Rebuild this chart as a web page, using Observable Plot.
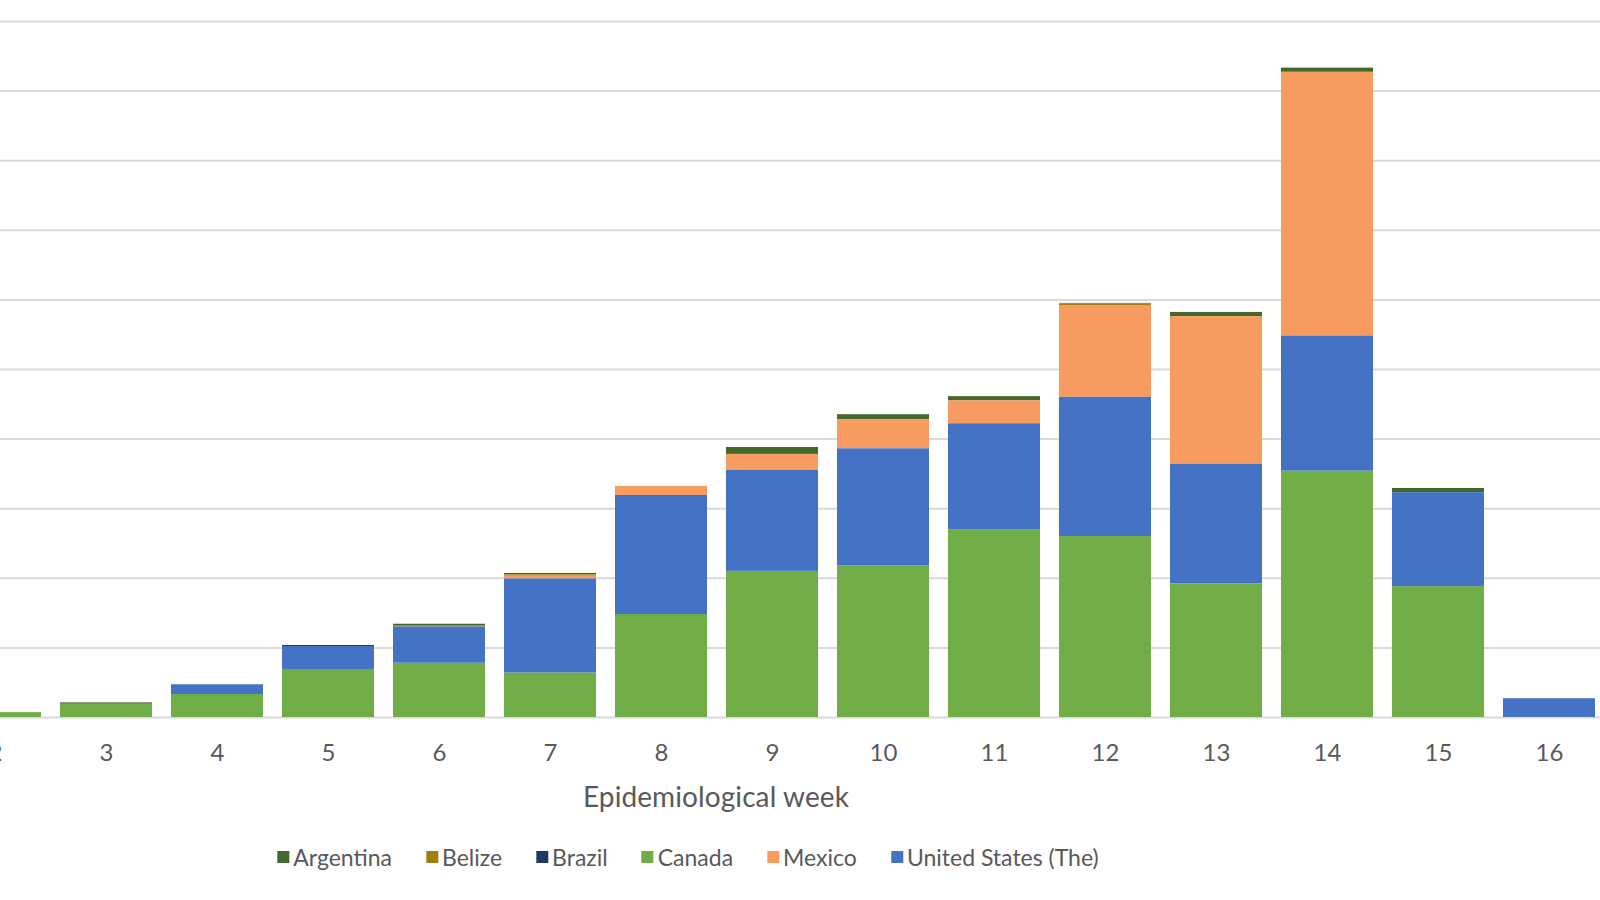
<!DOCTYPE html>
<html>
<head>
<meta charset="utf-8">
<script src="https://cdn.jsdelivr.net/npm/d3@7"></script>
<script src="https://cdn.jsdelivr.net/npm/@observablehq/plot@0.6"></script>
<style>
  html, body { margin: 0; padding: 0; background: #fff; }
  #wrap { position: relative; width: 1600px; height: 900px; overflow: hidden; font-family: Lato, "Open Sans", sans-serif; }
  #chart { position: absolute; left: 0; top: 0; }
  #title { position: absolute; top: 780px; left: 716px; transform: translateX(-50%); font-size: 28px; line-height: 1.2; color: #595959; white-space: nowrap; letter-spacing: 0.1px; }
  #legend { position: absolute; top: 843px; left: 688px; transform: translateX(-50%); display: flex; align-items: center; white-space: nowrap; font-size: 23px; color: #595959; }
  #legend .item { display: flex; align-items: center; margin-right: 34px; }
  #legend .item:last-child { margin-right: 0; }
  #legend .sw { width: 12px; height: 12px; margin-right: 4px; display: inline-block; }
</style>
</head>
<body>
<div id="wrap">
  <div id="chart"></div>
  <div id="title">Epidemiological week</div>
  <div id="legend"></div>
</div>
<script>
// Epidemiological weeks shown
const weeks = [2, 3, 4, 5, 6, 7, 8, 9, 10, 11, 12, 13, 14, 15, 16];

// Series values per week
const argentina = [0, 1, 0, 0, 1, 1, 0, 5, 3.5, 3, 0.5, 3, 3, 3, 0];
const belize    = [0, 0, 0, 0, 1, 1, 0, 0, 0, 0, 1, 0, 0, 0, 0];
const brazil    = [0, 0, 0, 0.7, 0, 0, 0, 0, 0, 0, 0, 0, 0, 0, 0];
const canada    = [3.5, 9.5, 16.5, 34.5, 39, 32, 74, 105, 109, 135, 130, 96, 177, 94, 0];
const mexico    = [0, 0, 0, 0, 0, 2, 6.5, 11.5, 21, 16.5, 66, 106, 189.5, 0, 0];
const usa       = [0, 0, 7, 16.5, 26, 67.5, 85.5, 72.5, 84, 76, 100, 86, 97, 67.5, 13.5];

// Legend order and colours
const countries = ["Argentina", "Belize", "Brazil", "Canada", "Mexico", "United States (The)"];
const colors = ["#43682b", "#a07e0c", "#203864", "#70ad47", "#f89b60", "#4472c4"];
// Stacking order bottom → top
const stackOrder = ["Canada", "United States (The)", "Mexico", "Brazil", "Belize", "Argentina"];

// Gridline values
const yTicks = [0, 50, 100, 150, 200, 250, 300, 350, 400, 450, 500];

const seriesByCountry = {
  "Argentina": argentina,
  "Belize": belize,
  "Brazil": brazil,
  "Canada": canada,
  "Mexico": mexico,
  "United States (The)": usa
};

const data = [];
for (const c of countries) {
  weeks.forEach((w, i) => data.push({week: w, country: c, value: seriesByCountry[c][i]}));
}

const W = 1600, H = 780;
const step = 111.1;
const firstCenter = -6;

const chart = Plot.plot({
  width: W,
  height: H,
  marginLeft: 0,
  marginRight: 0,
  marginTop: 21,
  marginBottom: 63,
  style: {fontFamily: "Lato, 'Open Sans', sans-serif", background: "#fff", overflow: "hidden"},
  x: {
    type: "band",
    domain: weeks,
    range: [firstCenter - step / 2, firstCenter - step / 2 + step * weeks.length],
    paddingInner: 0.17,
    paddingOuter: 0.085,
    label: null
  },
  y: {domain: [0, 500], axis: null},
  color: {domain: countries, range: colors},
  marks: [
    Plot.ruleY(yTicks, {stroke: "#d9d9d9", strokeWidth: 2}),
    Plot.barY(data, Plot.stackY({x: "week", y: "value", fill: "country", order: stackOrder})),
    Plot.axisX({tickSize: 0, tickPadding: 26, fontSize: 24, fill: "#595959", label: null})
  ]
});
document.getElementById("chart").appendChild(chart);

// Legend
const legend = document.getElementById("legend");
countries.forEach((c, i) => {
  const item = document.createElement("div");
  item.className = "item";
  const sw = document.createElement("span");
  sw.className = "sw";
  sw.style.background = colors[i];
  const tx = document.createElement("span");
  tx.textContent = c;
  item.appendChild(sw);
  item.appendChild(tx);
  legend.appendChild(item);
});
</script>
</body>
</html>
